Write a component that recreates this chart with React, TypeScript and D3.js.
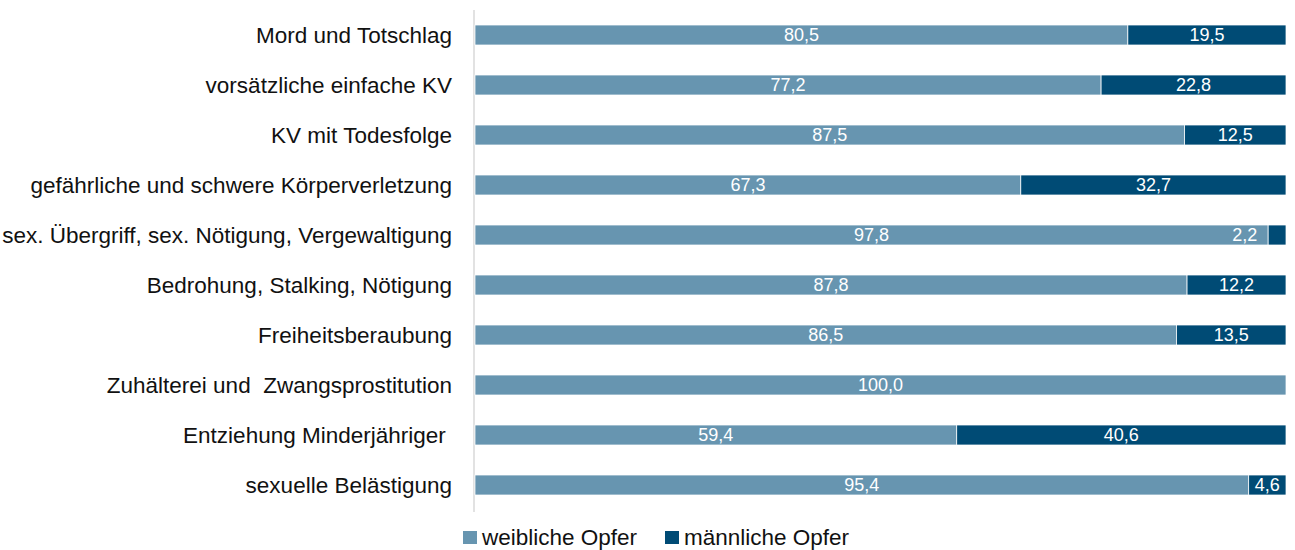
import React from "react";
import * as d3 from "d3";

const categories = [
  "Mord und Totschlag",
  "vorsätzliche einfache KV",
  "KV mit Todesfolge",
  "gefährliche und schwere Körperverletzung",
  "sex. Übergriff, sex. Nötigung, Vergewaltigung",
  "Bedrohung, Stalking, Nötigung",
  "Freiheitsberaubung",
  "Zuhälterei und  Zwangsprostitution",
  "Entziehung Minderjähriger ",
  "sexuelle Belästigung",
];
const female = [80.5, 77.2, 87.5, 67.3, 97.8, 87.8, 86.5, 100.0, 59.4, 95.4];
const male = [19.5, 22.8, 12.5, 32.7, 2.2, 12.2, 13.5, 0, 40.6, 4.6];
const seriesNames = ["weibliche Opfer", "männliche Opfer"];
const colors = ["#6795b0", "#004b75"];

const W = 1295;
const H = 550;
const FONT = "'Liberation Sans', Arial, sans-serif";

export default function App() {
  const x = d3.scaleLinear().domain([0, 100]).range([475, 1286]);
  const y = d3
    .scaleBand<string>()
    .domain(categories)
    .range([10, 510])
    .paddingInner(0.6)
    .paddingOuter(0.3);
  const fmt = (v: number) => v.toFixed(1).replace(".", ",");

  return (
    <svg
      width={W}
      height={H}
      style={{ position: "absolute", left: 0, top: 0, fontFamily: FONT }}
    >
      <rect width={W} height={H} fill="#fff" />
      <line x1={474} x2={474} y1={10} y2={512} stroke="#d9d9d9" strokeWidth={1.5} />
      {categories.map((c, i) => {
        const yy = y(c)!;
        const bh = y.bandwidth();
        const f = female[i];
        const m = male[i];
        const segW = x(f + m) - x(f);
        const small = segW < 28;
        return (
          <g key={c}>
            <text
              x={452}
              y={yy + bh / 2}
              dy="0.35em"
              textAnchor="end"
              fontSize={22.5}
              fill="#111"
              style={{ whiteSpace: "pre" }}
            >
              {c}
            </text>
            <rect
              x={x(0)}
              y={yy}
              width={x(f) - x(0)}
              height={bh}
              fill={colors[0]}
              stroke="#fff"
              strokeWidth={0.75}
            />
            {m > 0 && (
              <rect
                x={x(f)}
                y={yy}
                width={segW}
                height={bh}
                fill={colors[1]}
                stroke="#fff"
                strokeWidth={0.75}
              />
            )}
            <text
              x={(x(0) + x(f)) / 2}
              y={yy + bh / 2}
              dy="0.36em"
              textAnchor="middle"
              fontSize={18}
              fill="#fff"
            >
              {fmt(f)}
            </text>
            {m > 0 && (
              <text
                x={small ? x(f) - 11 : (x(f) + x(f + m)) / 2}
                y={yy + bh / 2}
                dy="0.36em"
                textAnchor={small ? "end" : "middle"}
                fontSize={18}
                fill="#fff"
              >
                {fmt(m)}
              </text>
            )}
          </g>
        );
      })}
      {seriesNames.map((s, i) => {
        const lx = i === 0 ? 463 : 665;
        return (
          <g key={s}>
            <rect x={lx} y={531} width={14} height={13} fill={colors[i]} />
            <text x={lx + 19} y={537.5} dy="0.35em" fontSize={22.5} fill="#111">
              {s}
            </text>
          </g>
        );
      })}
    </svg>
  );
}
